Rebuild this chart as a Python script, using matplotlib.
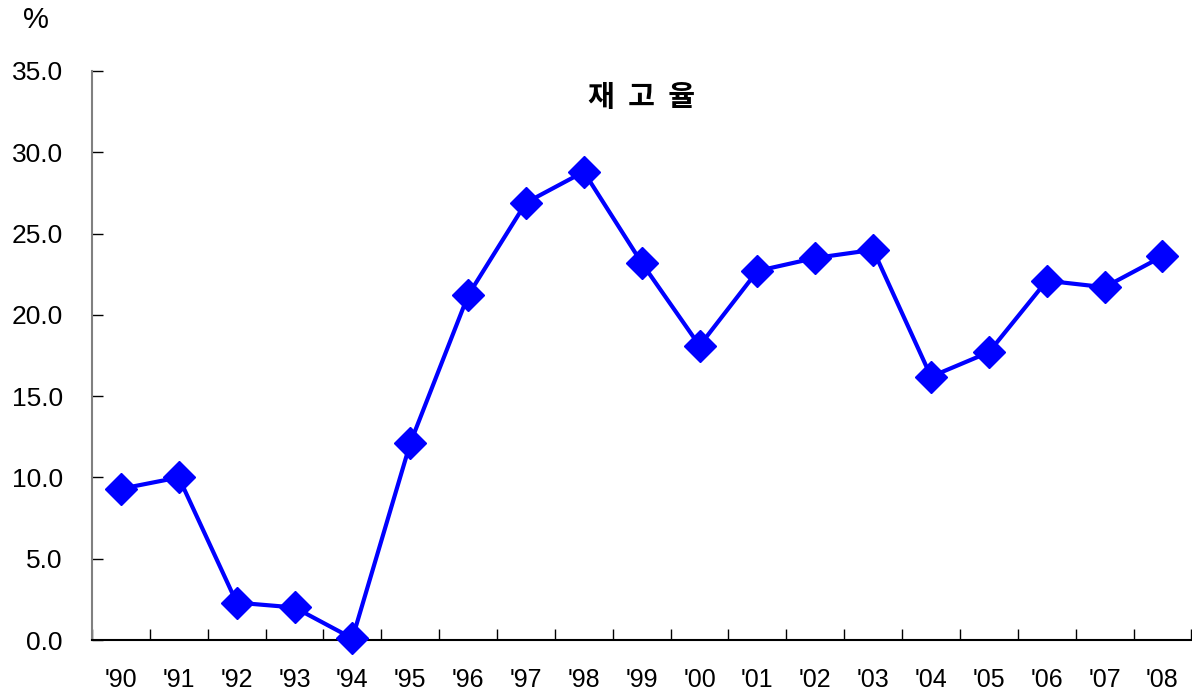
import matplotlib
matplotlib.use("Agg")
import matplotlib.pyplot as plt

years = ["'90", "'91", "'92", "'93", "'94", "'95", "'96", "'97", "'98", "'99",
         "'00", "'01", "'02", "'03", "'04", "'05", "'06", "'07", "'08"]
values = [9.3, 10.0, 2.3, 2.0, 0.1, 12.1, 21.2, 26.9, 28.8, 23.2,
          18.1, 22.7, 23.5, 24.0, 16.2, 17.7, 22.1, 21.7, 23.6]
yticks = [0, 5, 10, 15, 20, 25, 30, 35]

plt.rcParams['font.family'] = ['Liberation Sans', 'DejaVu Sans']

fig = plt.figure(figsize=(11.92, 6.90), dpi=100)
ax = fig.add_axes([92/1192, 1 - 640/690, 1 - 92/1192 - 0.0005, (640 - 71)/690])

x = list(range(len(years)))
ax.plot(x, values, color='#0000FF', linewidth=3, marker='D', markersize=16,
        markerfacecolor='#0000FF', markeredgecolor='#0000FF', clip_on=False, zorder=3)

ax.set_xlim(-0.5, len(years) - 0.5)
ax.set_ylim(0, 35)
ax.set_yticks(yticks)
ax.set_yticklabels([f"{v:.1f}" for v in yticks], fontsize=19)
ax.set_xticks(x)
ax.set_xticklabels(years, fontsize=18)
ax.tick_params(axis='x', which='major', length=0, pad=20)
ax.set_xticks([i - 0.5 for i in range(len(years) + 1)], minor=True)
ax.tick_params(axis='x', which='minor', direction='in', length=8, width=1, color='black')
ax.tick_params(axis='y', direction='in', length=8, width=1, color='black', pad=21)

for s in ['top', 'right']:
    ax.spines[s].set_visible(False)
ax.spines['left'].set_color('#808080')
ax.spines['left'].set_linewidth(1.5)
ax.spines['bottom'].set_color('black')
ax.spines['bottom'].set_linewidth(1.5)

ax.text(0.5, 1 - (97 - 71)/569, "재  고  율", transform=ax.transAxes, ha='center', va='center',
        fontsize=21, fontweight='bold', family=['Noto Sans CJK KR', 'DejaVu Sans'])
fig.text(36/1192, 1 - 20/690, "%", ha='center', va='center', fontsize=21)

fig.savefig("out.png", dpi=100)
